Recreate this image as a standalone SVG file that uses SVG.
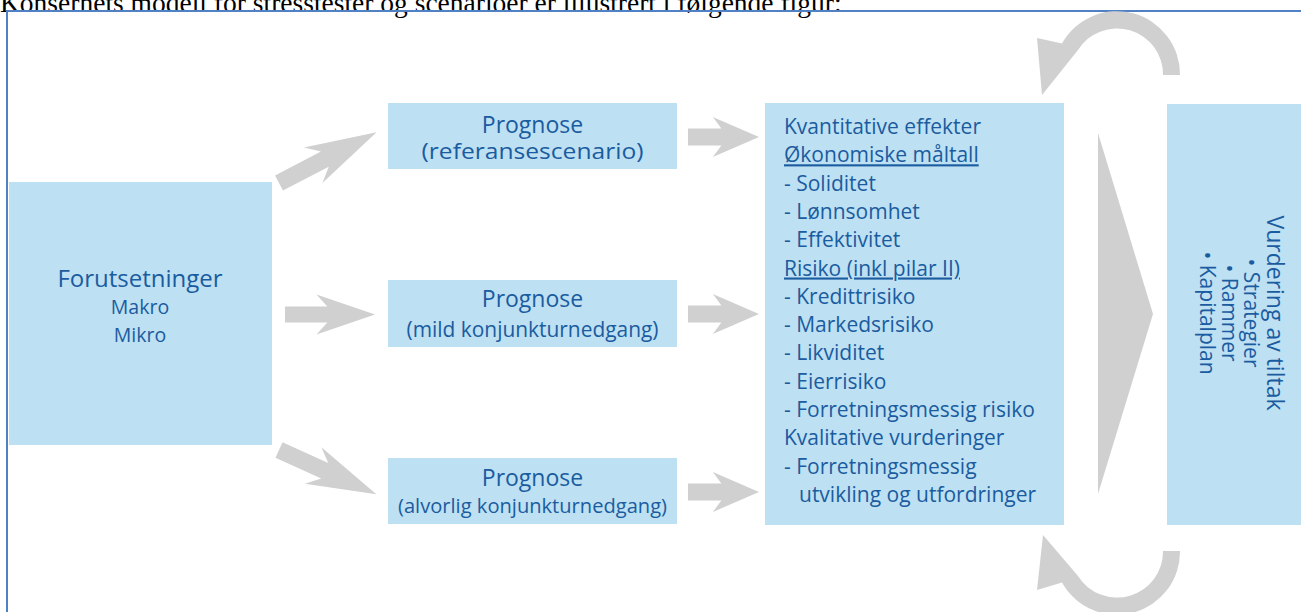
<svg xmlns="http://www.w3.org/2000/svg" width="1301" height="612" viewBox="0 0 1301 612">
<style>
.box{fill:#bee0f3}
.arr{fill:#d0d0d0}
.t{font-family:"Open Sans","Noto Sans",sans-serif;fill:#1a5c9f}
.c{text-anchor:middle}
.u{text-decoration:underline}
.cap{font-family:"Liberation Serif",serif;font-size:27.5px;fill:#000}
</style>
<rect width="1301" height="612" fill="#fff"/>
<text class="cap" x="0" y="12">Konsernets modell for stresstester og scenarioer er illustrert i følgende figur:</text>
<path d="M7,612 V11 H1301" fill="none" stroke="#4f81c4" stroke-width="2"/>

<g id="connectors">
  <path class="arr" d="M0,-8.5 L47,-8.5 L35,-20 L100,0 L35,20 L47,8.5 L0,8.5 Z" transform="translate(279,183) rotate(-27.5) scale(1.1,1)"/>
  <path class="arr" d="M0,-8 L47,-8 L35,-20 L100,0 L35,20 L47,8 L0,8 Z" transform="translate(285,314.5) scale(0.9,1)"/>
  <path class="arr" d="M0,-8.5 L47,-8.5 L35,-20 L100,0 L35,20 L47,8.5 L0,8.5 Z" transform="translate(279,450) rotate(24.5) scale(1.07,1)"/>
  <path class="arr" d="M0,-8.5 L47,-8.5 L35,-20 L100,0 L35,20 L47,8.5 L0,8.5 Z" transform="translate(688,137) scale(0.71,1)"/>
  <path class="arr" d="M0,-8.5 L47,-8.5 L35,-20 L100,0 L35,20 L47,8.5 L0,8.5 Z" transform="translate(688,314) scale(0.71,1)"/>
  <path class="arr" d="M0,-8.5 L47,-8.5 L35,-20 L100,0 L35,20 L47,8.5 L0,8.5 Z" transform="translate(688,492) scale(0.71,1)"/>
  <path class="arr" d="M1098,133 L1153,314 L1098,494 Z"/>
  <path class="arr" d="M1180,75 A63,63 0 0 0 1062,43.5 L1037,38 L1042,95 L1078,50 A46,46 0 0 1 1163,75 Z"/>
  <path class="arr" d="M1180,551 A63,63 0 0 1 1062,582.5 L1037,590 L1043,535 L1078,576 A46,46 0 0 0 1163,551 Z"/>
</g>

<g id="forutsetninger">
  <rect class="box" x="9" y="182" width="263" height="263"/>
  <text class="t c" x="140" y="287" font-size="24">Forutsetninger</text>
  <text class="t c" x="140" y="314" font-size="19.5">Makro</text>
  <text class="t c" x="140" y="342" font-size="19.5">Mikro</text>
</g>

<g id="prognose1">
  <rect class="box" x="388" y="103" width="289" height="66"/>
  <text class="t c" x="532.5" y="133" font-size="23">Prognose</text>
  <text class="t c" x="532.5" y="159" font-size="21" textLength="222" lengthAdjust="spacingAndGlyphs">(referansescenario)</text>
</g>

<g id="prognose2">
  <rect class="box" x="388" y="280" width="289" height="67"/>
  <text class="t c" x="532.5" y="307" font-size="23">Prognose</text>
  <text class="t c" x="532.5" y="337" font-size="21" textLength="252" lengthAdjust="spacingAndGlyphs">(mild konjunkturnedgang)</text>
</g>

<g id="prognose3">
  <rect class="box" x="388" y="458" width="289" height="66"/>
  <text class="t c" x="532.5" y="486" font-size="23">Prognose</text>
  <text class="t c" x="532.5" y="513" font-size="20.5" textLength="269" lengthAdjust="spacingAndGlyphs">(alvorlig konjunkturnedgang)</text>
</g>

<g id="effekter">
  <rect class="box" x="765" y="103" width="299" height="422"/>
  <g class="t" font-size="21">
    <text x="784" y="134">Kvantitative effekter</text>
    <text class="u" x="784" y="162.3">Økonomiske måltall</text>
    <text x="784" y="190.6">- Soliditet</text>
    <text x="784" y="218.9">- Lønnsomhet</text>
    <text x="784" y="247.2">- Effektivitet</text>
    <text class="u" x="784" y="275.5">Risiko (inkl pilar II)</text>
    <text x="784" y="303.8">- Kredittrisiko</text>
    <text x="784" y="332.1">- Markedsrisiko</text>
    <text x="784" y="360.4">- Likviditet</text>
    <text x="784" y="388.7">- Eierrisiko</text>
    <text x="784" y="417">- Forretningsmessig risiko</text>
    <text x="784" y="445.3">Kvalitative vurderinger</text>
    <text x="784" y="473.6">- Forretningsmessig</text>
    <text x="799" y="501.9">utvikling og utfordringer</text>
  </g>
</g>

<g id="vurdering">
  <rect class="box" x="1167" y="104" width="134" height="421"/>
  <g class="t c" transform="translate(1267,313) rotate(90)">
    <text x="0" y="0" font-size="23">Vurdering av tiltak</text>
    <text x="0" y="23" font-size="21">• Strategier</text>
    <text x="0" y="45" font-size="21">• Rammer</text>
    <text x="0" y="67" font-size="21">• Kapitalplan</text>
  </g>
</g>
</svg>
